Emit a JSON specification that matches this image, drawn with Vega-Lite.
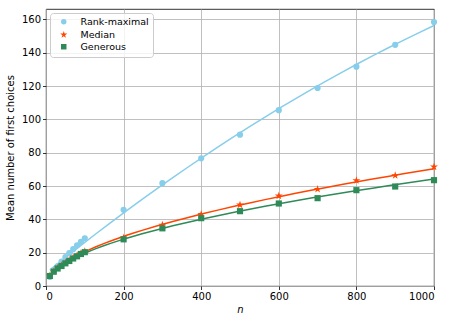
{
  "$schema": "https://vega.github.io/schema/vega-lite/v6.json",
  "width": 388,
  "height": 277,
  "autosize": "none",
  "padding": {"left": 46, "top": 9, "right": 21, "bottom": 39},
  "config": {
    "font": "DejaVu Sans",
    "view": {"stroke": "#000000", "strokeWidth": 0.8},
    "axis": {
      "labelFont": "DejaVu Sans", "labelFontSize": 10, "labelColor": "#000000",
      "titleFont": "DejaVu Sans", "titleFontSize": 10, "titleColor": "#000000", "titleFontWeight": "normal",
      "tickColor": "#000000", "tickSize": 3.5, "tickWidth": 0.8, "labelPadding": 2,
      "domain": false,
      "gridColor": "#b0b0b0", "gridWidth": 0.8, "gridOpacity": 1
    }
  },
  "data": {"values": [
    {"n": 10, "series": "Rank-maximal", "y": 5.5},
    {"n": 20, "series": "Rank-maximal", "y": 8.9},
    {"n": 30, "series": "Rank-maximal", "y": 11.9},
    {"n": 40, "series": "Rank-maximal", "y": 14.7},
    {"n": 50, "series": "Rank-maximal", "y": 17.3},
    {"n": 60, "series": "Rank-maximal", "y": 19.8},
    {"n": 70, "series": "Rank-maximal", "y": 22.1},
    {"n": 80, "series": "Rank-maximal", "y": 24.4},
    {"n": 90, "series": "Rank-maximal", "y": 26.5},
    {"n": 100, "series": "Rank-maximal", "y": 28.6},
    {"n": 200, "series": "Rank-maximal", "y": 45.7},
    {"n": 300, "series": "Rank-maximal", "y": 61.7},
    {"n": 400, "series": "Rank-maximal", "y": 76.6},
    {"n": 500, "series": "Rank-maximal", "y": 90.8},
    {"n": 600, "series": "Rank-maximal", "y": 105.5},
    {"n": 700, "series": "Rank-maximal", "y": 118.8},
    {"n": 800, "series": "Rank-maximal", "y": 131.6},
    {"n": 900, "series": "Rank-maximal", "y": 144.7},
    {"n": 1000, "series": "Rank-maximal", "y": 158.4},
    {"n": 10, "series": "Median", "y": 6.2},
    {"n": 20, "series": "Median", "y": 8.8},
    {"n": 30, "series": "Median", "y": 10.8},
    {"n": 40, "series": "Median", "y": 12.4},
    {"n": 50, "series": "Median", "y": 14.0},
    {"n": 60, "series": "Median", "y": 15.5},
    {"n": 70, "series": "Median", "y": 17.0},
    {"n": 80, "series": "Median", "y": 18.3},
    {"n": 90, "series": "Median", "y": 19.6},
    {"n": 100, "series": "Median", "y": 20.8},
    {"n": 200, "series": "Median", "y": 28.8},
    {"n": 300, "series": "Median", "y": 36.6},
    {"n": 400, "series": "Median", "y": 43.0},
    {"n": 500, "series": "Median", "y": 48.7},
    {"n": 600, "series": "Median", "y": 54.1},
    {"n": 700, "series": "Median", "y": 58.1},
    {"n": 800, "series": "Median", "y": 63.3},
    {"n": 900, "series": "Median", "y": 66.3},
    {"n": 1000, "series": "Median", "y": 71.5},
    {"n": 10, "series": "Generous", "y": 6.0},
    {"n": 20, "series": "Generous", "y": 8.6},
    {"n": 30, "series": "Generous", "y": 10.5},
    {"n": 40, "series": "Generous", "y": 12.0},
    {"n": 50, "series": "Generous", "y": 13.6},
    {"n": 60, "series": "Generous", "y": 15.0},
    {"n": 70, "series": "Generous", "y": 16.5},
    {"n": 80, "series": "Generous", "y": 17.8},
    {"n": 90, "series": "Generous", "y": 19.2},
    {"n": 100, "series": "Generous", "y": 20.3},
    {"n": 200, "series": "Generous", "y": 28.0},
    {"n": 300, "series": "Generous", "y": 34.6},
    {"n": 400, "series": "Generous", "y": 40.7},
    {"n": 500, "series": "Generous", "y": 44.9},
    {"n": 600, "series": "Generous", "y": 49.5},
    {"n": 700, "series": "Generous", "y": 52.7},
    {"n": 800, "series": "Generous", "y": 57.5},
    {"n": 900, "series": "Generous", "y": 59.7},
    {"n": 1000, "series": "Generous", "y": 63.5}
  ]},
  "encoding": {
    "x": {"field": "n", "type": "quantitative", "title": "n",
      "scale": {"domain": [0, 1000], "nice": false},
      "axis": {"values": [0, 200, 400, 600, 800, 1000], "format": "d", "titleFontStyle": "italic", "titlePadding": 3}},
    "y": {"field": "y", "type": "quantitative", "title": "Mean number of first choices",
      "scale": {"domain": [0, 166.2], "nice": false},
      "axis": {"values": [0, 20, 40, 60, 80, 100, 120, 140, 160], "titlePadding": 6}}
  },
  "layer": [
    {
      "transform": [{"filter": "datum.series === 'Rank-maximal'"}, {"regression": "y", "on": "n", "method": "poly", "order": 2}],
      "mark": {"type": "line", "strokeWidth": 1.5, "color": "#87ceeb"},
      "encoding": {}
    },
    {
      "transform": [{"filter": "datum.series === 'Median'"}, {"regression": "y", "on": "n", "method": "pow"}],
      "mark": {"type": "line", "strokeWidth": 1.5, "color": "#ff4500"},
      "encoding": {}
    },
    {
      "transform": [{"filter": "datum.series === 'Generous'"}, {"regression": "y", "on": "n", "method": "pow"}],
      "mark": {"type": "line", "strokeWidth": 1.5, "color": "#2e8b57"},
      "encoding": {}
    },
    {
      "mark": {"type": "point", "filled": true, "opacity": 1, "size": 38},
      "encoding": {
        "color": {"field": "series", "type": "nominal",
          "scale": {"domain": ["Rank-maximal", "Median", "Generous"], "range": ["#87ceeb", "#ff4500", "#2e8b57"]},
          "legend": {"title": null, "orient": "top-left", "offset": 4, "labelFontSize": 9.5, "labelColor": "#000000",
            "strokeColor": "#cccccc", "fillColor": "rgba(255,255,255,0.8)", "cornerRadius": 3, "padding": 4,
            "rowPadding": 0, "symbolSize": 30, "symbolOffset": 5, "labelOffset": 12, "symbolOpacity": 1}},
        "shape": {"field": "series", "type": "nominal",
          "scale": {"domain": ["Rank-maximal", "Median", "Generous"],
            "range": ["circle", "M0,-1.35L0.303,-0.417L1.284,-0.417L0.49,0.159L0.794,1.092L0,0.516L-0.794,1.092L-0.49,0.159L-1.284,-0.417L-0.303,-0.417Z", "square"]}}
      }
    }
  ]
}
